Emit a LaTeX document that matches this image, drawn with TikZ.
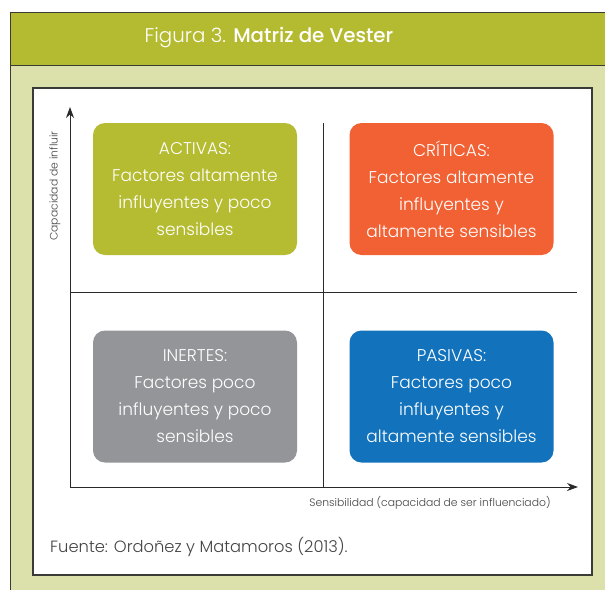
\documentclass[tikz,border=0pt]{standalone}
\usepackage{fontspec}
\setmainfont{Poppins}[UprightFont=* Light, BoldFont=* Medium]
\usepackage{xcolor}
\usetikzlibrary{arrows.meta,positioning}

\definecolor{titleolive}{HTML}{B5BB31}
\definecolor{pagegreen}{HTML}{DCE0AA}
\definecolor{framegray}{HTML}{3A3A36}
\definecolor{axisgray}{HTML}{2A2A2A}
\definecolor{activacol}{HTML}{B5BC32}
\definecolor{criticacol}{HTML}{F26134}
\definecolor{inertecol}{HTML}{939598}
\definecolor{pasivacol}{HTML}{1273BC}
\definecolor{textgray}{HTML}{444444}

\begin{document}
\begin{tikzpicture}[
    x=1pt,y=-1pt,
    factor/.style={rounded corners=12pt, minimum width=204pt, minimum height=132pt,
                   text=white, align=center, inner sep=2pt,
                   font=\fontsize{17}{27}\selectfont},
    axis/.style={-{Stealth[length=11pt,width=8pt]}, line width=0.9pt, draw=axisgray},
    divider/.style={line width=0.9pt, draw=axisgray},
    axislabel/.style={text=textgray, font=\fontsize{10.8}{12}\selectfont, inner sep=0pt}
]
\useasboundingbox (0,0) rectangle (605,590);

% Page and title bar
\fill[pagegreen] (10,65) rectangle (605,590);
\fill[titleolive] (10,12) rectangle (605,65);
\draw[framegray, line width=1pt] (605,12) -- (10,12) -- (10,590);
\draw[framegray, line width=1pt] (10,65) -- (605,65);
\draw[framegray, fill=white, line width=1.2pt] (33,88) rectangle (592,575);
\node[text=white, font=\fontsize{19.8}{24}\selectfont] (title) at (269,38)
    {Figura 3. \textbf{Matriz de Vester}};

% Axes and quadrant dividers
\coordinate (origin) at (70,487);
\coordinate (ytip) at (70,107);
\coordinate (xtip) at (578,487);
\coordinate (vtop) at (323,123);
\coordinate (vbot) at (323,487);
\coordinate (hleft) at (70,292);
\coordinate (hright) at (577,292);
\draw[divider] (vtop) -- (vbot);
\draw[divider] (hleft) -- (hright);
\draw[axis] (origin) -- (ytip);
\draw[axis] (origin) -- (xtip);

% Quadrants
\node[factor, fill=activacol] (activas) at (195,189)
    {ACTIVAS:\\Factores altamente\\influyentes y poco\\sensibles};
\node[factor, fill=criticacol] (criticas) at (451.5,189)
    {CRÍTICAS:\\Factores altamente\\influyentes y\\altamente sensibles};
\node[factor, fill=inertecol] (inertes) at (195,396.5)
    {INERTES:\\Factores poco\\influyentes y poco\\sensibles};
\node[factor, fill=pasivacol] (pasivas) at (451.5,396.5)
    {PASIVAS:\\Factores poco\\influyentes y\\altamente sensibles};

% Axis labels and source
\node[axislabel, rotate=90] (ylabel) at (55,186) {Capacidad de influir};
\node[axislabel] (xlabel) at (430,503) {Sensibilidad (capacidad de ser influenciado)};
\node[text=textgray, font=\fontsize{16.3}{19}\selectfont, anchor=west, inner sep=0pt]
    (fuente) at (50,547) {Fuente: Ordoñez y Matamoros (2013).};
\end{tikzpicture}
\end{document}
